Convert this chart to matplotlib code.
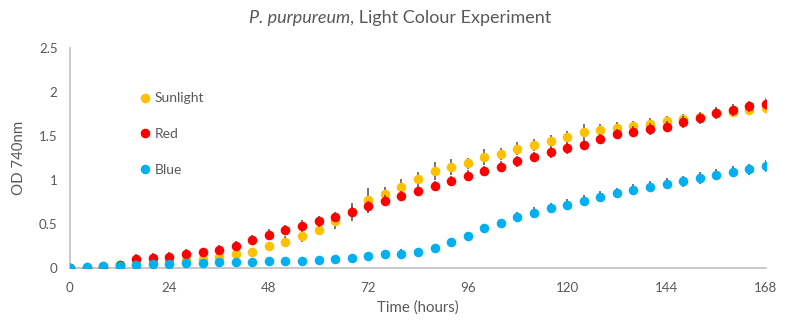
import matplotlib.pyplot as plt
from matplotlib.lines import Line2D

plt.rcParams["font.family"] = ["Lato", "DejaVu Sans"]

hours = list(range(0, 169, 4))

sunlight = [0.0, 0.01, 0.02, 0.03, 0.05, 0.07, 0.08, 0.09, 0.10, 0.12, 0.155, 0.18,
            0.25, 0.30, 0.36, 0.43, 0.53, 0.64, 0.77, 0.835, 0.925, 1.01, 1.10, 1.15,
            1.19, 1.26, 1.295, 1.355, 1.40, 1.44, 1.485, 1.55, 1.57, 1.595, 1.61, 1.64,
            1.67, 1.69, 1.715, 1.76, 1.77, 1.795, 1.82]
sunlight_err = [0.005, 0.005, 0.005, 0.01, 0.01, 0.01, 0.02, 0.02, 0.03, 0.03, 0.04, 0.04,
                0.05, 0.06, 0.06, 0.06, 0.085, 0.06, 0.14, 0.09, 0.083, 0.075, 0.10, 0.09,
                0.065, 0.09, 0.065, 0.075, 0.068, 0.072, 0.076, 0.08, 0.065, 0.06, 0.06, 0.06,
                0.06, 0.06, 0.06, 0.06, 0.06, 0.06, 0.06]

red = [0.0, 0.005, 0.01, 0.03, 0.105, 0.11, 0.13, 0.155, 0.18, 0.21, 0.255, 0.32,
       0.38, 0.43, 0.48, 0.53, 0.58, 0.635, 0.70, 0.765, 0.818, 0.875, 0.93, 0.99,
       1.05, 1.10, 1.15, 1.21, 1.26, 1.315, 1.36, 1.40, 1.465, 1.52, 1.55, 1.58,
       1.605, 1.66, 1.70, 1.76, 1.795, 1.835, 1.865]
red_err = [0.005, 0.01, 0.01, 0.01, 0.055, 0.058, 0.05, 0.06, 0.05, 0.05, 0.055, 0.06,
           0.065, 0.06, 0.06, 0.06, 0.06, 0.10, 0.065, 0.06, 0.06, 0.055, 0.06, 0.06,
           0.06, 0.06, 0.06, 0.06, 0.06, 0.06, 0.06, 0.06, 0.06, 0.06, 0.06, 0.065,
           0.065, 0.065, 0.065, 0.065, 0.065, 0.065, 0.065]

blue = [0.0, 0.015, 0.02, 0.025, 0.035, 0.045, 0.05, 0.055, 0.06, 0.065, 0.065, 0.07,
        0.075, 0.08, 0.075, 0.09, 0.10, 0.115, 0.135, 0.16, 0.16, 0.18, 0.23, 0.29,
        0.36, 0.46, 0.51, 0.58, 0.63, 0.68, 0.72, 0.765, 0.81, 0.85, 0.89, 0.925,
        0.955, 0.985, 1.02, 1.06, 1.095, 1.12, 1.16]
blue_err = [0.005, 0.005, 0.005, 0.005, 0.01, 0.01, 0.01, 0.01, 0.01, 0.01, 0.01, 0.01,
            0.02, 0.02, 0.02, 0.02, 0.02, 0.02, 0.02, 0.03, 0.055, 0.03, 0.03, 0.03,
            0.03, 0.04, 0.05, 0.055, 0.06, 0.06, 0.06, 0.06, 0.06, 0.06, 0.062, 0.062,
            0.062, 0.065, 0.065, 0.065, 0.065, 0.065, 0.065]

labels = ["Sunlight", "Red", "Blue"]
colors = ["#FFC000", "#FF0000", "#00B0F0"]
text_grey = "#595959"

fig = plt.figure(figsize=(8, 3.29), dpi=100)
ax = fig.add_axes([0.0875, 0.1854, 0.87, 0.669])

series = [(sunlight, sunlight_err), (red, red_err), (blue, blue_err)]
for i, (vals, errs) in enumerate(series):
    ax.errorbar(hours, vals, yerr=errs, fmt="o", color=colors[i], markersize=6.9,
                markeredgewidth=0, ecolor="#4D4D4D", elinewidth=1.1, capsize=2.9,
                capthick=1.2, zorder=3 + i)

ax.set_xlim(0, 168)
ax.set_ylim(0, 2.5)
ax.set_xticks(range(0, 169, 24))
ax.set_yticks([0, 0.5, 1, 1.5, 2, 2.5])
ax.set_yticklabels(["0", "0.5", "1", "1.5", "2", "2.5"])

for side in ["top", "right"]:
    ax.spines[side].set_visible(False)
for side in ["left", "bottom"]:
    ax.spines[side].set_color("#BFBFBF")
    ax.spines[side].set_linewidth(1.2)
ax.tick_params(axis="both", length=0, labelsize=9.6, labelcolor=text_grey)
ax.tick_params(axis="x", pad=10)
ax.tick_params(axis="y", pad=9)

ax.set_xlabel("Time (hours)", fontsize=10.8, color=text_grey, labelpad=5)
ax.set_ylabel("OD 740nm", fontsize=10.8, color=text_grey, labelpad=9)

# title centred on the figure, species name in italics
title_y = 0.945
t1 = fig.text(0, title_y, "P. purpureum", fontsize=13, style="italic", color=text_grey,
              va="center")
t2 = fig.text(0, title_y, ", Light Colour Experiment", fontsize=13, color=text_grey,
              va="center")
fig.canvas.draw()
r = fig.canvas.get_renderer()
w1 = t1.get_window_extent(r).width
w2 = t2.get_window_extent(r).width
fw = fig.bbox.width
x0 = 0.5 - (w1 + w2) / 2 / fw
t1.set_x(x0)
t2.set_x(x0 + w1 / fw)

handles = [Line2D([], [], linestyle="none", marker="o", color=c, markersize=6.9,
                  markeredgewidth=0) for c in colors]
ax.legend(handles, labels, loc="upper left", bbox_to_anchor=(0.09, 0.829), frameon=False,
          fontsize=10, labelcolor=text_grey, handlelength=0.8, handletextpad=0.3,
          labelspacing=1.71, borderpad=0)

fig.savefig("out.png", dpi=100)
